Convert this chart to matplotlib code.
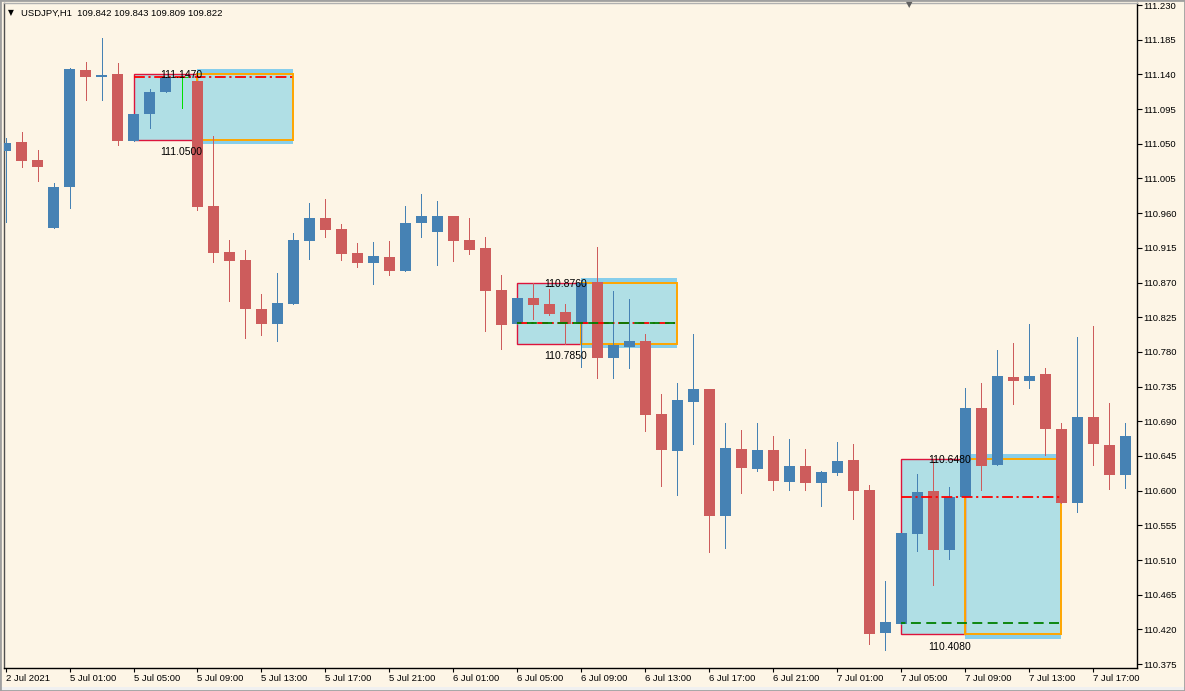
import matplotlib
matplotlib.use('Agg')
import matplotlib.pyplot as plt
from matplotlib.patches import Rectangle

# USDJPY H1 candles, 2 Jul 21:00 .. 7 Jul 18:00
opens = [111.041, 111.052, 111.029, 110.941, 110.994, 111.146, 111.137, 111.141, 111.054, 111.089,
         111.117, 111.136, 111.131, 110.969, 110.910, 110.899, 110.836, 110.816, 110.842, 110.924,
         110.954, 110.940, 110.908, 110.895, 110.903, 110.885, 110.947, 110.936, 110.956, 110.925,
         110.915, 110.860, 110.816, 110.850, 110.842, 110.832, 110.816, 110.871, 110.772, 110.786,
         110.794, 110.700, 110.652, 110.715, 110.732, 110.567, 110.654, 110.628, 110.653, 110.611,
         110.632, 110.610, 110.623, 110.640, 110.601, 110.416, 110.427, 110.544, 110.600, 110.523,
         110.592, 110.707, 110.633, 110.748, 110.742, 110.751, 110.680, 110.584, 110.696, 110.659,
         110.620]
highs = [111.058, 111.065, 111.042, 110.999, 111.148, 111.156, 111.187, 111.155, 111.089, 111.121,
         111.135, 111.138, 111.131, 111.060, 110.925, 110.912, 110.855, 110.882, 110.934, 110.973,
         110.978, 110.946, 110.921, 110.923, 110.924, 110.969, 110.985, 110.976, 110.956, 110.954,
         110.929, 110.880, 110.850, 110.869, 110.862, 110.842, 110.873, 110.916, 110.859, 110.849,
         110.803, 110.726, 110.740, 110.803, 110.732, 110.688, 110.679, 110.688, 110.671, 110.667,
         110.654, 110.626, 110.663, 110.661, 110.607, 110.483, 110.545, 110.622, 110.640, 110.605,
         110.733, 110.740, 110.783, 110.792, 110.816, 110.759, 110.688, 110.799, 110.814, 110.714,
         110.688]
lows = [110.949, 111.020, 111.002, 110.941, 110.967, 111.107, 111.107, 111.048, 111.054, 111.071,
        111.117, 111.096, 110.964, 110.897, 110.846, 110.798, 110.802, 110.794, 110.842, 110.901,
        110.929, 110.899, 110.890, 110.868, 110.880, 110.885, 110.929, 110.893, 110.898, 110.907,
        110.807, 110.784, 110.816, 110.823, 110.828, 110.790, 110.761, 110.746, 110.746, 110.759,
        110.678, 110.606, 110.595, 110.661, 110.521, 110.526, 110.597, 110.626, 110.601, 110.601,
        110.601, 110.580, 110.620, 110.563, 110.401, 110.393, 110.427, 110.522, 110.478, 110.512,
        110.592, 110.601, 110.633, 110.713, 110.733, 110.646, 110.584, 110.572, 110.633, 110.602,
        110.604]
closes = [111.051, 111.028, 111.020, 110.994, 111.147, 111.137, 111.139, 111.054, 111.089, 111.117,
          111.135, 111.136, 110.968, 110.908, 110.898, 110.836, 110.816, 110.844, 110.925, 110.954,
          110.938, 110.907, 110.895, 110.904, 110.885, 110.947, 110.956, 110.956, 110.924, 110.912,
          110.859, 110.815, 110.850, 110.841, 110.829, 110.816, 110.869, 110.772, 110.789, 110.794,
          110.698, 110.653, 110.718, 110.732, 110.567, 110.655, 110.630, 110.653, 110.613, 110.632,
          110.610, 110.624, 110.639, 110.600, 110.414, 110.430, 110.545, 110.598, 110.523, 110.592,
          110.707, 110.632, 110.749, 110.742, 110.749, 110.680, 110.584, 110.696, 110.661, 110.620,
          110.671]

# session boxes (bar index of start / split / end)
box_start = [8, 32, 56]
box_split = [12, 36, 60]
box_end = [18, 42, 66]
box_high = [111.147, 110.876, 110.648]
box_low = [111.050, 110.785, 110.408]
rect_high = [111.141, 110.870, 110.641]
rect_low = [111.055, 110.790, 110.414]
red_level = [111.136, 110.818, 110.592]
green_level = [None, 110.818, 110.428]
high_text = ['111.1470', '110.8760', '110.6480']
low_text = ['111.0500', '110.7850', '110.4080']

time_ticks = [0, 4, 8, 12, 16, 20, 24, 28, 32, 36, 40, 44, 48, 52, 56, 60, 64, 68]
time_labels = ['2 Jul 2021', '5 Jul 01:00', '5 Jul 05:00', '5 Jul 09:00', '5 Jul 13:00',
               '5 Jul 17:00', '5 Jul 21:00', '6 Jul 01:00', '6 Jul 05:00', '6 Jul 09:00',
               '6 Jul 13:00', '6 Jul 17:00', '6 Jul 21:00', '7 Jul 01:00', '7 Jul 05:00',
               '7 Jul 09:00', '7 Jul 13:00', '7 Jul 17:00']
price_labels = ['110.375', '110.420', '110.465', '110.510', '110.555', '110.600', '110.645',
                '110.690', '110.735', '110.780', '110.825', '110.870', '110.915', '110.960',
                '111.005', '111.050', '111.095', '111.140', '111.185', '111.230']

BG = '#fdf5e6'
UP = '#4682b4'
DOWN = '#cd5c5c'
FONT = 'Liberation Sans'

fig = plt.figure(figsize=(11.85, 6.91), dpi=100, facecolor=BG)
ax = fig.add_axes([4 / 1185, 23 / 691, 1133 / 1185, 665 / 691])
ax.set_facecolor(BG)

# boxes behind the candles
for k in range(len(box_start)):
    x0, xm, x1 = box_start[k], box_split[k], box_end[k]
    ax.add_patch(Rectangle((xm, box_low[k]), x1 - xm, box_high[k] - box_low[k],
                           facecolor='#87ceeb', edgecolor='none', zorder=1))
    ax.add_patch(Rectangle((x0, rect_low[k]), x1 - x0, rect_high[k] - rect_low[k],
                           facecolor='#b0dfe5', edgecolor='none', zorder=1.1))
    ax.add_patch(Rectangle((x0, rect_low[k]), xm - x0, rect_high[k] - rect_low[k],
                           facecolor='none', edgecolor='#dc143c', lw=1.0, zorder=1.2))
    ax.add_patch(Rectangle((xm, rect_low[k]), x1 - xm, rect_high[k] - rect_low[k],
                           facecolor='none', edgecolor='#ffa500', lw=1.4, zorder=1.3))

# candles
for i in range(len(opens)):
    o, h, l, c = opens[i], highs[i], lows[i], closes[i]
    if c > o:
        col = UP
    elif c < o:
        col = DOWN
    else:
        col = '#00e000'
    ax.vlines(i, l, h, color=col, lw=0.72, antialiased=False, zorder=2)
    if c == o:
        ax.hlines(o, i - 0.34, i + 0.34, color=col, lw=0.72, antialiased=False, zorder=2)
    else:
        ax.bar(i, abs(c - o), bottom=min(o, c), width=0.69, color=col, lw=0,
               antialiased=False, zorder=3)

# levels and labels
for k in range(len(box_start)):
    ax.hlines(red_level[k], box_start[k], box_end[k], color='#ff0000', lw=1.3,
              linestyles=(0, (6, 2, 1.2, 2)), zorder=4)
    if green_level[k] is not None:
        ax.hlines(green_level[k], box_start[k], box_end[k], color='#008000', lw=1.3,
                  linestyles=(3, (5.5, 3)), zorder=4)
    ax.annotate(high_text[k], (box_split[k] - 1, box_high[k]), xytext=(0, -1),
                textcoords='offset pixels', ha='center', va='top', fontsize=7.5,
                family=FONT, color='black', zorder=5)
    ax.annotate(low_text[k], (box_split[k] - 1, box_low[k]), xytext=(0, -3),
                textcoords='offset pixels', ha='center', va='top', fontsize=7.5,
                family=FONT, color='black', zorder=5)

ax.set_xlim(-0.094, 70.72)
ax.set_ylim(110.370, 111.2326)

ax.yaxis.tick_right()
ax.set_yticks([float(p) for p in price_labels])
ax.set_yticklabels(price_labels, family=FONT, fontsize=6.8)
ax.tick_params(axis='y', length=3.5, width=0.8, pad=0.8, colors='black')
ax.set_xticks(time_ticks)
ax.set_xticklabels(time_labels, family=FONT, fontsize=6.8, ha='left')
ax.tick_params(axis='x', length=3, width=0.8, pad=1.5, colors='black')

for side in ['right', 'bottom']:
    ax.spines[side].set_color('black')
    ax.spines[side].set_linewidth(1.0)
ax.spines['left'].set_color('#505050')
ax.spines['left'].set_linewidth(1.0)
ax.spines['top'].set_color('#b0b0b0')
ax.spines['top'].set_linewidth(1.0)

# header and chart-shift marker
fig.text(8 / 1185, 1 - 13 / 691, '\u25bc', fontsize=5.5, family='DejaVu Sans', va='center')
fig.text(21 / 1185, 1 - 13 / 691, 'USDJPY,H1  109.842 109.843 109.809 109.822',
         fontsize=6.8, family=FONT, va='center', color='black')
fig.text(909 / 1185, 1 - 5 / 691, '\u25bc', fontsize=6, family='DejaVu Sans',
         va='center', ha='center', color='#606060')

# window frame
fig.patches.append(Rectangle((0, 0), 1, 4 / 691, transform=fig.transFigure,
                             facecolor='#f0f0f0', edgecolor='none', zorder=0))
fig.patches.append(Rectangle((0, 0), 1, 1, transform=fig.transFigure, fill=False,
                             edgecolor='#a0a0a0', lw=2))

plt.savefig('out.png', dpi=100, facecolor=BG)
